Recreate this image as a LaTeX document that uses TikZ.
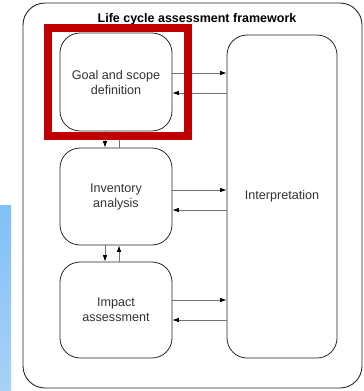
\documentclass[tikz,border=0pt]{standalone}
\usepackage{fontspec}
\setmainfont{Liberation Sans}
\usetikzlibrary{arrows.meta}
\definecolor{framered}{RGB}{192,0,0}
\definecolor{barblue}{RGB}{128,192,248}
\definecolor{barbluelight}{RGB}{168,210,246}
\definecolor{txt}{RGB}{50,50,50}
\begin{document}
\begin{tikzpicture}[x=1pt,y=-1pt,
  stage/.style={draw=black!85, line width=0.8pt, rounded corners=20pt,
    minimum width=112pt, minimum height=98pt, align=center,
    font=\fontsize{12.6}{15}\selectfont, text=txt, inner sep=0pt},
  flow/.style={draw=black!55, line width=0.7pt,
    -{Latex[length=6.5pt,width=4.5pt,color=black]}},
  outline/.style={draw=black!85, line width=0.9pt, rounded corners=22pt}]
  \useasboundingbox (0,0) rectangle (364,391);
  % side bar
  \shade[top color=barblue, bottom color=barbluelight] (0,205) rectangle (11,391);
  % framework frame
  \draw[outline] (23,3) rectangle (362,388);
  \node[font=\bfseries\fontsize{12.5}{14}\selectfont] (title) at (197,19) {Life cycle assessment framework};
  % stages
  \node[stage] (goal) at (116,82) {Goal and scope\\definition};
  \node[stage, minimum height=97pt] (inv) at (116,196.5) {Inventory\\analysis};
  \node[stage, minimum height=96pt] (imp) at (116,310) {Impact\\assessment};
  \node[stage, minimum width=110pt, minimum height=323pt] (interp) at (282,196.5) {Interpretation};
  % exchanges with interpretation
  \draw[flow] (goal.east |- 0,73) -- (interp.west |- 0,73);
  \draw[flow] (interp.west |- 0,93) -- (goal.east |- 0,93);
  \draw[flow] (inv.east |- 0,190) -- (interp.west |- 0,190);
  \draw[flow] (interp.west |- 0,210) -- (inv.east |- 0,210);
  \draw[flow] (imp.east |- 0,300) -- (interp.west |- 0,300);
  \draw[flow] (interp.west |- 0,320) -- (imp.east |- 0,320);
  % vertical exchanges
  \draw[flow] (goal.south -| 105,0) -- (inv.north -| 105,0);
  \draw[flow] (inv.north -| 119,0) -- (goal.south -| 119,0);
  \draw[flow] (inv.south -| 105,0) -- (imp.north -| 105,0);
  \draw[flow] (imp.north -| 119,0) -- (inv.south -| 119,0);
  % highlight
  \draw[framered, line width=8pt] (48,28) rectangle (188,136);
\end{tikzpicture}
\end{document}
